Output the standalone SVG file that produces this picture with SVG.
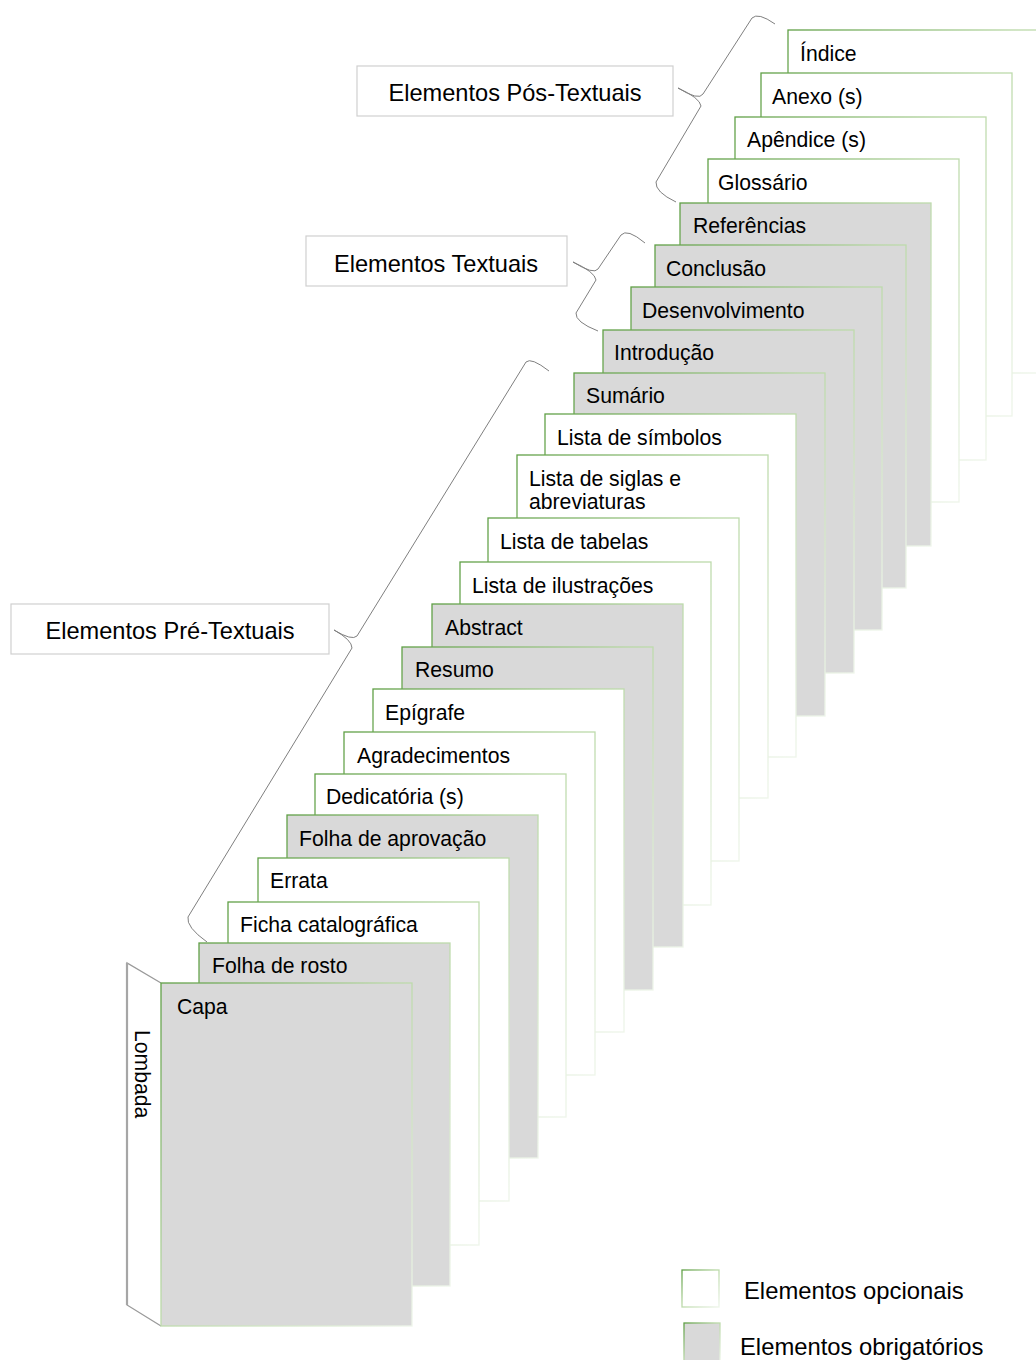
<svg xmlns="http://www.w3.org/2000/svg" width="1036" height="1360" viewBox="0 0 1036 1360">
<defs>
<linearGradient id="edge" x1="0" y1="0" x2="1" y2="1">
<stop offset="0" stop-color="#5f9f45"/>
<stop offset="0.45" stop-color="#b9d8a6"/>
<stop offset="1" stop-color="#eef5ea"/>
</linearGradient>
</defs>
<style>
.pg{stroke:url(#edge);stroke-width:1.3}
.w{fill:#ffffff}
.g{fill:#d9d9d9}
.pt{font-family:"Liberation Sans",Arial,sans-serif;font-size:21.2px;fill:#000}
.lb{fill:#fff;stroke:#d0d0d0;stroke-width:1.2}
.lt{font-family:"Liberation Sans",Arial,sans-serif;font-size:23.6px;fill:#000;text-anchor:middle}
.br{fill:none;stroke:#7f7f7f;stroke-width:1}
.leg{font-family:"Liberation Sans",Arial,sans-serif;font-size:23.8px;fill:#000}
</style>
<rect width="1036" height="1360" fill="#fff"/>

<g id="page-indice"><rect class="pg w" x="788" y="30" width="251" height="343"/><text class="pt" x="800" y="61">Índice</text></g>
<g id="page-anexo"><rect class="pg w" x="761" y="73" width="251" height="343"/><text class="pt" x="772" y="104">Anexo (s)</text></g>
<g id="page-apendice"><rect class="pg w" x="735" y="117" width="251" height="343"/><text class="pt" x="747" y="147">Apêndice (s)</text></g>
<g id="page-glossario"><rect class="pg w" x="708" y="159" width="251" height="343"/><text class="pt" x="718" y="190">Glossário</text></g>
<g id="page-referencias"><rect class="pg g" x="680" y="203" width="251" height="343"/><text class="pt" x="693" y="233">Referências</text></g>
<g id="page-conclusao"><rect class="pg g" x="655" y="245" width="251" height="343"/><text class="pt" x="666" y="276">Conclusão</text></g>
<g id="page-desenvolvimento"><rect class="pg g" x="631" y="287" width="251" height="343"/><text class="pt" x="642" y="318">Desenvolvimento</text></g>
<g id="page-introducao"><rect class="pg g" x="603" y="330" width="251" height="343"/><text class="pt" x="614" y="360">Introdução</text></g>
<g id="page-sumario"><rect class="pg g" x="574" y="373" width="251" height="343"/><text class="pt" x="586" y="403">Sumário</text></g>
<g id="page-lista-simbolos"><rect class="pg w" x="545" y="414" width="251" height="343"/><text class="pt" x="557" y="445">Lista de símbolos</text></g>
<g id="page-lista-siglas"><rect class="pg w" x="517" y="455" width="251" height="343"/><text class="pt" x="529" y="486">Lista de siglas e</text><text class="pt" x="529" y="509">abreviaturas</text></g>
<g id="page-lista-tabelas"><rect class="pg w" x="488" y="518" width="251" height="343"/><text class="pt" x="500" y="549">Lista de tabelas</text></g>
<g id="page-lista-ilustracoes"><rect class="pg w" x="460" y="562" width="251" height="343"/><text class="pt" x="472" y="593">Lista de ilustrações</text></g>
<g id="page-abstract"><rect class="pg g" x="432" y="604" width="251" height="343"/><text class="pt" x="445" y="635">Abstract</text></g>
<g id="page-resumo"><rect class="pg g" x="402" y="647" width="251" height="343"/><text class="pt" x="415" y="677">Resumo</text></g>
<g id="page-epigrafe"><rect class="pg w" x="373" y="689" width="251" height="343"/><text class="pt" x="385" y="720">Epígrafe</text></g>
<g id="page-agradecimentos"><rect class="pg w" x="344" y="732" width="251" height="343"/><text class="pt" x="357" y="763">Agradecimentos</text></g>
<g id="page-dedicatoria"><rect class="pg w" x="315" y="774" width="251" height="343"/><text class="pt" x="326" y="804">Dedicatória (s)</text></g>
<g id="page-folha-aprovacao"><rect class="pg g" x="287" y="815" width="251" height="343"/><text class="pt" x="299" y="846">Folha de aprovação</text></g>
<g id="page-errata"><rect class="pg w" x="258" y="858" width="251" height="343"/><text class="pt" x="270" y="888">Errata</text></g>
<g id="page-ficha"><rect class="pg w" x="228" y="902" width="251" height="343"/><text class="pt" x="240" y="932">Ficha catalográfica</text></g>
<g id="page-folha-rosto"><rect class="pg g" x="199" y="943" width="251" height="343"/><text class="pt" x="212" y="973">Folha de rosto</text></g>
<g id="lombada"><path d="M161,983 L127,963 L127,1305 L161,1326" fill="#fff" stroke="#9a9a9a" stroke-width="1.3"/><line x1="127" y1="963" x2="127" y2="1305" stroke="#a6a6a6" stroke-width="2.2"/><text class="pt" transform="translate(135,1030) rotate(90)" font-size="20.5">Lombada</text></g>
<g id="page-capa"><rect class="pg g" x="161" y="983" width="251" height="343"/><text class="pt" x="177" y="1014">Capa</text></g>

<g id="label-pos"><rect class="lb" x="357" y="66" width="316" height="50"/><text class="lt" x="515" y="101">Elementos Pós-Textuais</text></g>
<g id="label-textuais"><rect class="lb" x="306" y="236" width="261" height="50"/><text class="lt" x="436" y="272">Elementos Textuais</text></g>
<g id="label-pre"><rect class="lb" x="11" y="604" width="318" height="50"/><text class="lt" x="170" y="639">Elementos Pré-Textuais</text></g>

<g id="connectors">
<path class="br" d="M775,24 Q758,12 752,18 L703,94 Q699,101 678,88 Q700,98 701,106 L656,182 Q655,192 676,202"/>
<path class="br" d="M645,243 Q627,228 621,235 L598,269 Q594,275 573,262 Q595,272 596,280 L576,313 Q575,322 598,331"/>
<path class="br" d="M549,371 Q531,357 526,362 L357,636 Q352,641 334,630 Q352,640 352,648 L188,917 Q186,927 207,942"/>
</g>

<g id="legend-opcionais"><rect class="pg w" x="682" y="1270" width="37" height="37"/><text class="leg" x="744" y="1299">Elementos opcionais</text></g>
<g id="legend-obrigatorios"><rect class="pg g" x="684" y="1323" width="36" height="40"/><text class="leg" x="740" y="1355">Elementos obrigatórios</text></g>
</svg>
